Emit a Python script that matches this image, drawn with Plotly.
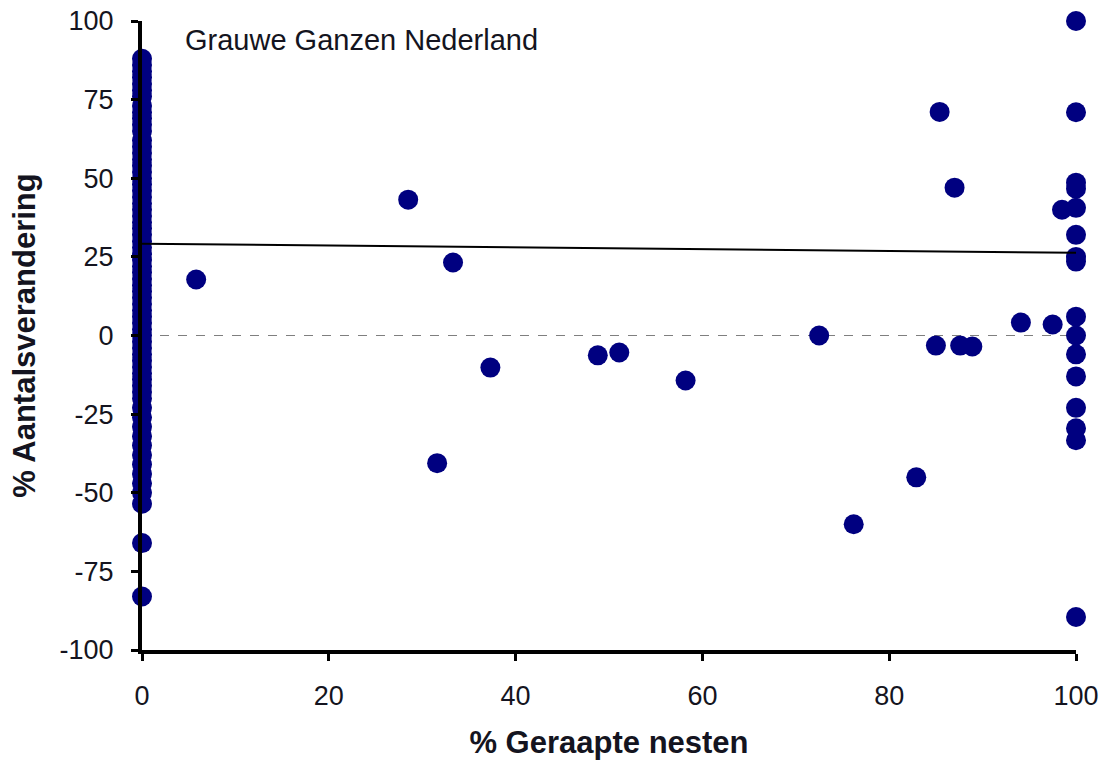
import plotly.graph_objects as go

# Percentage of nests collected per area (x) and percentage change in breeding pairs (y)
zero_nest_changes = [
    88, 86, 84, 82, 80, 78, 76, 73, 71, 69, 67, 65, 62, 60, 58, 56, 54, 52, 50,
    48, 46, 44, 42, 40, 38, 36, 34, 32, 30, 28, 26, 24, 22, 20, 18, 16, 14, 12,
    10, 8, 6, 4, 2, 0, -2, -4, -6, -8, -10, -12, -14, -16, -18, -20, -23, -26,
    -29, -32, -35, -38, -41, -44, -47, -50, -53.5, -66, -83,
]
zero_nest_pct = [0] * len(zero_nest_changes)

other_nest_pct = [
    5.8, 28.5, 33.3, 31.6, 37.3, 48.8, 51.1, 58.2, 72.5, 76.2, 82.9, 85.4, 87.0,
    85.0, 87.6, 88.9, 94.1, 97.5, 98.5,
]
other_changes = [
    17.8, 43.2, 23.2, -40.6, -10.2, -6.3, -5.4, -14.3, 0, -60, -45.1, 71.1, 47,
    -3.2, -3.2, -3.5, 4.1, 3.5, 40,
]

all_nest_changes = [
    100, 71, 48.6, 46.7, 40.6, 32, 25, 23.5, 6, 0, -6, -13, -23, -29.5, -33.3, -89.5,
]
all_nest_pct = [100] * len(all_nest_changes)

x_vals = zero_nest_pct + other_nest_pct + all_nest_pct
y_vals = zero_nest_changes + other_changes + all_nest_changes

# Linear trend line (endpoints at 0 % and 100 % collected nests)
trend_x = [0, 100]
trend_y = [29.2, 26.3]

x_ticks = [0, 20, 40, 60, 80, 100]
y_ticks = [-100, -75, -50, -25, 0, 25, 50, 75, 100]
y_tick_labels = ["-100", "-75", "-50", "-25", "0", "25", "50", "75", "100"]

NAVY = "#000080"
FONT = "Liberation Sans, Arial, sans-serif"
TEXT = "#141420"

# plot area in pixels
plot_l, plot_r, plot_t, plot_b = 142, 30, 21, 110
plot_w = 1106 - plot_l - plot_r
plot_h = 760 - plot_t - plot_b

fig = go.Figure()

# Zero reference line
fig.add_trace(go.Scatter(
    x=[0, 100], y=[0, 0], mode="lines",
    line=dict(color="#7f7f7f", width=1.2, dash="dash"),
    hoverinfo="skip", showlegend=False,
))

fig.add_trace(go.Scatter(
    x=x_vals, y=y_vals, mode="markers",
    marker=dict(color=NAVY, size=20, line=dict(width=0)),
    cliponaxis=False, showlegend=False,
))

fig.add_trace(go.Scatter(
    x=trend_x, y=trend_y, mode="lines",
    line=dict(color="black", width=2),
    cliponaxis=False, showlegend=False,
))

fig.add_annotation(
    x=(183 - plot_l) / plot_w, y=1 - (40 - plot_t) / plot_h,
    xref="paper", yref="paper", xanchor="left", yanchor="middle",
    text="Grauwe Ganzen Nederland", showarrow=False,
    font=dict(family=FONT, size=29, color=TEXT),
)

fig.update_xaxes(
    range=[0, 100], tickvals=x_ticks, ticks="outside", ticklen=7, tickwidth=3,
    tickcolor="black", showline=True, linecolor="black", linewidth=4,
    showgrid=False, zeroline=False, ticklabelstandoff=12, automargin=False,
    tickfont=dict(family=FONT, size=27, color=TEXT),
    title=dict(text="<b>% Geraapte nesten</b>", standoff=24,
               font=dict(family=FONT, size=31, color=TEXT)),
)
fig.update_yaxes(
    range=[-100, 100], tickvals=y_ticks, ticktext=y_tick_labels,
    ticks="outside", ticklen=7, tickwidth=3,
    tickcolor="black", showline=True, linecolor="black", linewidth=4,
    showgrid=False, zeroline=False, ticklabelstandoff=12, automargin=False,
    tickfont=dict(family=FONT, size=27, color=TEXT),
    title=dict(text="<b>% Aantalsverandering</b>", standoff=16,
               font=dict(family=FONT, size=31, color=TEXT)),
)

fig.update_layout(
    width=1106, height=760,
    margin=dict(l=plot_l, r=plot_r, t=plot_t, b=plot_b, autoexpand=False),
    plot_bgcolor="white", paper_bgcolor="white",
)

fig.write_html("out.html")
